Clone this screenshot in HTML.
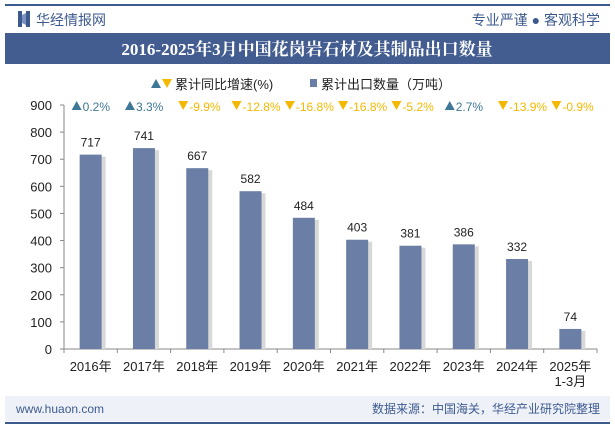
<!DOCTYPE html>
<html><head><meta charset="utf-8"><style>
body{margin:0;width:615px;height:427px;overflow:hidden;background:#fff;font-family:"Liberation Sans","Noto Sans CJK SC",sans-serif;}
</style></head><body>
<svg width="615" height="427" xmlns="http://www.w3.org/2000/svg" id="chart">
<defs><linearGradient id="bg" x1="0" x2="0" y1="0" y2="1"><stop offset="0" stop-color="#fff"/><stop offset="1" stop-color="#fff"/></linearGradient></defs>
<rect x="0" y="0" width="615" height="427" fill="#fff"/>
<line x1="5" y1="5" x2="610" y2="5" stroke="#3d5a8f" stroke-width="2"/>
<rect x="18" y="11" width="4" height="16" fill="#3d5a8f"/><rect x="26" y="11" width="4" height="16" fill="#3d5a8f"/><polygon points="22,15 26,13 26,25 22,23" fill="#7b93c0"/>
<text x="36" y="25" font-size="14" fill="#3d5a8f">华经情报网</text>
<text x="600" y="25" font-size="14" fill="#3d5a8f" text-anchor="end">专业严谨 ● 客观科学</text>
<rect x="5" y="33" width="605" height="31" fill="#435d91"/>
<text x="307" y="55" font-size="17" font-weight="bold" fill="#fff" text-anchor="middle" font-family="'Liberation Serif','Noto Serif CJK SC',serif">2016-2025年3月中国花岗岩石材及其制品出口数量</text>
<g>
<polygon points="151,88 156,79 161,88" fill="#3f7896"/><polygon points="162,79 172,79 167,88" fill="#f5b800"/>
<text x="175" y="89" font-size="13" fill="#222">累计同比增速(%)</text>
<rect x="310" y="79" width="7" height="8" fill="#6b7ea6"/>
<text x="321" y="89" font-size="13" fill="#222">累计出口数量（万吨）</text>
</g>
<g id="plot"></g>
<rect x="5" y="396" width="605" height="25" fill="#eef2f8"/>
<text x="16" y="413" font-size="12" fill="#3d5a8f">www.huaon.com</text>
<text x="600" y="413" font-size="12" fill="#3d5a8f" text-anchor="end">数据来源：中国海关，华经产业研究院整理</text>
<line x1="5" y1="423" x2="610" y2="423" stroke="#3d5a8f" stroke-width="2"/>
</svg>
<script>
const categories=["2016年","2017年","2018年","2019年","2020年","2021年","2022年","2023年","2024年","2025年"];
const values=[717,741,667,582,484,403,381,386,332,74];
const growth=[0.2,3.3,-9.9,-12.8,-16.8,-16.8,-5.2,2.7,-13.9,-0.9];
const yTicks=[0,100,200,300,400,500,600,700,800,900];
const NS="http://www.w3.org/2000/svg";
const g=document.getElementById('plot');
const x0=64,x1=597,y0=349,yTop=105,yMax=900;
const bw=(x1-x0)/categories.length;
const ys=v=>y0-(v/yMax)*(y0-yTop);
const xs=i=>x0+bw*(i+0.5);
function el(t,a,txt){const e=document.createElementNS(NS,t);for(const k in a)e.setAttribute(k,a[k]);if(txt!==undefined)e.textContent=txt;g.appendChild(e);return e;}
yTicks.forEach(t=>{
 const e=el('text',{x:x0-12,y:ys(t)+5,'font-size':13,fill:'#222','text-anchor':'end'},t);
 
 
 el('line',{x1:x0-4,x2:x0,y1:ys(t),y2:ys(t),stroke:'#888'});
});
el('line',{x1:x0,x2:x0,y1:yTop,y2:y0,stroke:'#888'});
el('line',{x1:x0,x2:x1,y1:y0,y2:y0,stroke:'#888'});
for(let i=0;i<=categories.length;i++)el('line',{x1:x0+bw*i,x2:x0+bw*i,y1:y0,y2:y0+4,stroke:'#888'});
categories.forEach((c,i)=>{
 const cx=xs(i);
 el('rect',{x:cx-9,y:ys(values[i])+2,width:24,height:y0-ys(values[i])-2,fill:'#d8d8d8'});
 const b=el('rect',{x:cx-11,y:ys(values[i]),width:22,height:y0-ys(values[i]),fill:'#6b7ea6'});
 
 
 const v=el('text',{x:cx,y:ys(values[i])-8,'font-size':12,fill:'#222','text-anchor':'middle'},values[i]);
 
 
 const l=el('text',{x:cx,y:371,'font-size':13,fill:'#222','text-anchor':'middle'},c);
 
 
 if(i===categories.length-1){el('text',{x:cx,y:386,'font-size':13,fill:'#222','text-anchor':'middle'},'1-3月');}
 const gv=growth[i],up=gv>=0,col=up?'#3f7896':'#f5b800';
 const tx=cx-19,ty=106;
 if(up)el('polygon',{points:`${tx},${ty+4} ${tx+5},${ty-5} ${tx+10},${ty+4}`,fill:col});
 else el('polygon',{points:`${tx},${ty-5} ${tx+10},${ty-5} ${tx+5},${ty+4}`,fill:col});
 const gt=el('text',{x:tx+11,y:ty+5,'font-size':12,fill:col},(up?'':'')+gv.toFixed(1)+'%');
 
 
});
</script>
</body></html>
